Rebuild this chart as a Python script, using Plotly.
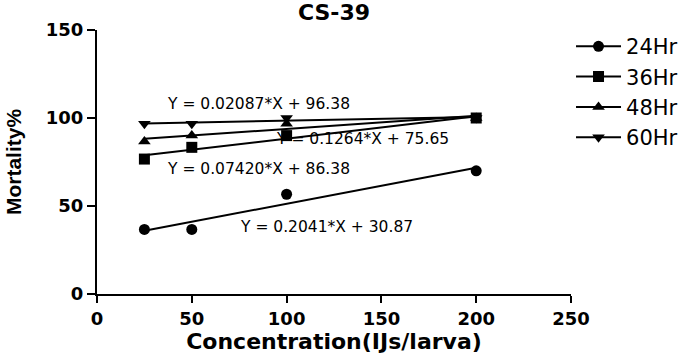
import plotly.graph_objects as go

# Data
concentration = [25, 50, 100, 200]
series_names = ["24Hr", "36Hr", "48Hr", "60Hr"]
mort_24 = [36.67, 36.67, 56.67, 70.0]
mort_36 = [76.67, 83.33, 90.0, 100.0]
mort_48 = [86.67, 90.0, 96.67, 100.0]
mort_60 = [96.67, 96.67, 100.0, 100.0]
slopes = [0.2041, 0.1264, 0.07420, 0.02087]
intercepts = [30.87, 75.65, 86.38, 96.38]
eq_labels = ["Y = 0.2041*X + 30.87", "Y = 0.1264*X + 75.65",
             "Y = 0.07420*X + 86.38", "Y = 0.02087*X + 96.38"]
eq_x = [121, 140, 85, 85]
eq_y = [38, 88, 71, 108]
x_ticks = [0, 50, 100, 150, 200, 250]
y_ticks = [0, 50, 100, 150]

series = [mort_24, mort_36, mort_48, mort_60]
symbols = ["circle", "square", "triangle-up", "triangle-down"]

fig = go.Figure()
for name, ys, sym, m, b in zip(series_names, series, symbols, slopes, intercepts):
    x0, x1 = min(concentration), max(concentration)
    fig.add_trace(go.Scatter(x=[x0, x1], y=[m * x0 + b, m * x1 + b], mode="lines",
                             line=dict(color="black", width=2), showlegend=False,
                             hoverinfo="skip"))
    fig.add_trace(go.Scatter(x=concentration, y=ys, mode="markers",
                             marker=dict(symbol=sym, size=11, color="black"),
                             showlegend=False))
    fig.add_trace(go.Scatter(x=[None], y=[None], mode="lines+markers", name=name,
                             marker=dict(symbol=sym, size=11, color="black"),
                             line=dict(color="black", width=2)))

for txt, ex, ey in zip(eq_labels, eq_x, eq_y):
    fig.add_annotation(x=ex, y=ey, text=txt, showarrow=False, xref="x", yref="y",
                       font=dict(family="DejaVu Sans", size=15.5, color="black"))

fig.update_layout(
    width=685, height=363,
    margin=dict(l=97, r=94, t=30, b=69),
    plot_bgcolor="white", paper_bgcolor="white",
    title=dict(text="CS-39", x=0.5, xref="paper", xanchor="center",
               y=1 - 12 / 363, yref="container", yanchor="middle",
               font=dict(family="DejaVu Sans", size=22, color="black", weight="bold")),
    legend=dict(x=0.8336, y=0.928, xref="container", yref="container",
                xanchor="left", yanchor="top",
                font=dict(family="DejaVu Sans", size=21, color="black"),
                bgcolor="rgba(0,0,0,0)", tracegroupgap=0, itemwidth=45),
    showlegend=True,
)
fig.update_xaxes(range=[0, 250], tickvals=x_ticks, showgrid=False, zeroline=False,
                 automargin=False,
                 showline=True, linecolor="black", linewidth=2,
                 ticks="outside", ticklen=7, tickwidth=2, tickcolor="black",
                 tickfont=dict(family="DejaVu Sans", size=18, color="black", weight="bold"),
                 title=dict(text="Concentration(IJs/larva)", standoff=5,
                            font=dict(family="DejaVu Sans", size=22, color="black", weight="bold")))
fig.update_yaxes(range=[0, 150], tickvals=y_ticks, showgrid=False, zeroline=False,
                 automargin=False,
                 showline=True, linecolor="black", linewidth=2,
                 ticks="outside", ticklen=8, tickwidth=2, tickcolor="black",
                 tickfont=dict(family="DejaVu Sans", size=18, color="black", weight="bold"),
                 title=dict(text="Mortality%", standoff=18,
                            font=dict(family="Liberation Sans", size=21, color="black", weight="bold")))

fig.write_html("out.html", config={"displayModeBar": False},
               post_script="document.body.style.margin='0px';")
